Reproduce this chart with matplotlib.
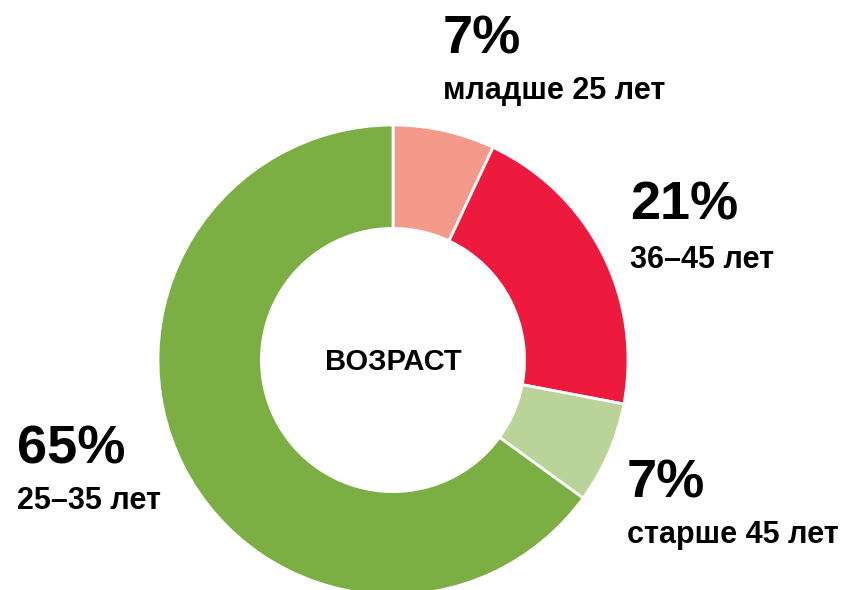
import matplotlib
matplotlib.use("Agg")
import matplotlib.pyplot as plt

labels = ["младше 25 лет", "36–45 лет", "старше 45 лет", "25–35 лет"]
values = [7, 21, 7, 65]
pct_labels = ["7%", "21%", "7%", "65%"]
colors = ["#F5998A", "#EE1A3E", "#BAD398", "#7BAF43"]
center_text = "ВОЗРАСТ"

W, H = 846, 590
fig = plt.figure(figsize=(W / 100, H / 100), dpi=100)
ax = fig.add_axes([0, 0, 1, 1])
font = ["Liberation Sans", "DejaVu Sans"]

cx, cy, R = 393, H - 360, 235
ax.pie(values, colors=colors, startangle=90, counterclock=False,
       radius=R, center=(cx, cy),
       wedgeprops=dict(width=R * 0.44, edgecolor="white", linewidth=2))
ax.set_xlim(0, W)
ax.set_ylim(0, H)
ax.set_aspect("equal")
ax.axis("off")

ax.text(cx, H - 362, center_text, ha="center", va="center", fontsize=21,
        fontweight="bold", family=font)

# label positions in pixel coords (x left, baseline y from top)
pos = [(443, 53, 99), (630, 220, 268), (627, 498, 543), (17, 463, 509)]
for (x, yb1, yb2), p, lab in zip(pos, pct_labels, labels):
    ax.text(x, H - yb1, p, ha="left", va="baseline", fontsize=39,
            fontweight="bold", family=font)
    ax.text(x, H - yb2, lab, ha="left", va="baseline", fontsize=22,
            fontweight="bold", family=font)

fig.savefig("out.png", dpi=100)
